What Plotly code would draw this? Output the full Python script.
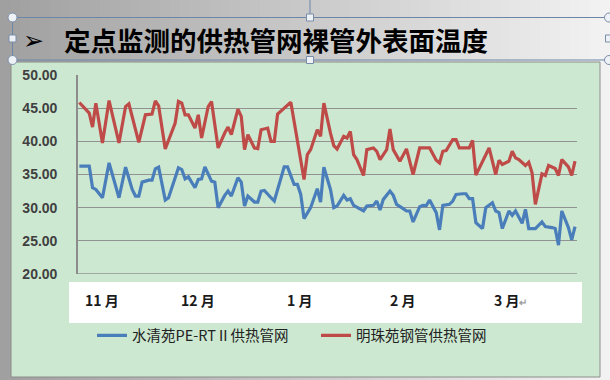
import plotly.graph_objects as go

W, H = 610, 380

# ---------------- data ----------------
title_text = "定点监测的供热管网裸管外表面温度"
series_names = ["水清苑PE-RTⅡ供热管网", "明珠苑钢管供热管网"]

# day index from 1 Nov (0) to 31 Mar (150)
blue_days = [0, 3, 4, 5, 7, 9, 12, 14, 16, 17, 18, 19, 21, 22, 23, 24, 26, 27, 30, 31,
             32, 33, 35, 36, 37, 38, 40, 41, 42, 44, 45, 46, 48, 49, 50, 51, 53, 54, 55, 56,
             58, 59, 62, 63, 65, 66, 67, 68, 70, 71, 72, 73, 74, 76, 77, 78, 80, 81, 82, 83,
             85, 86, 87, 89, 90, 91, 92, 94, 95, 96, 98, 99, 100, 101, 103, 104, 105, 106, 108, 109,
             110, 112, 113, 114, 116, 117, 118, 119, 120, 122, 123, 125, 126, 127, 128, 130, 131, 132, 134, 135,
             136, 138, 140, 141, 143, 144, 145, 146, 148, 149, 150]
blue_vals = [36.25, 36.25, 33.0, 32.75, 31.5, 36.75, 31.5, 36.1, 32.75, 31.75, 31.75, 33.85, 34.15, 34.15, 35.85, 36.1, 31.15, 31.5, 36.0, 35.75,
             34.35, 34.65, 33.0, 34.25, 34.35, 36.15, 34.0, 33.85, 30.0, 31.85, 32.5, 31.75, 34.5, 33.85, 30.25, 31.75, 30.85, 30.85, 32.5, 32.6,
             31.5, 31.0, 36.15, 36.15, 33.5, 33.5, 32.0, 28.35, 30.0, 31.5, 32.85, 30.85, 36.1, 32.75, 30.0, 30.25, 31.85, 31.15, 31.35, 30.35,
             29.85, 29.5, 30.25, 30.35, 31.0, 29.65, 31.25, 32.5, 31.85, 30.5, 29.85, 29.5, 29.5, 27.85, 30.15, 30.35, 30.3, 31.15, 29.25, 26.65,
             30.35, 30.5, 31.0, 32.0, 32.1, 32.1, 31.35, 31.35, 27.75, 26.85, 30.0, 30.75, 29.5, 29.25, 26.85, 29.5, 28.85, 29.5, 27.65, 29.75,
             26.85, 26.85, 27.85, 27.15, 27.0, 26.85, 24.35, 29.5, 27.0, 25.15, 27.15]

red_days = [0, 3, 4, 5, 7, 9, 12, 14, 15, 18, 20, 22, 23, 24, 26, 29, 30, 31, 32, 33,
            35, 36, 37, 39, 40, 42, 44, 45, 46, 48, 49, 50, 51, 53, 54, 55, 57, 58, 59, 60,
            62, 64, 68, 69, 70, 72, 73, 74, 76, 77, 78, 80, 81, 82, 83, 84, 86, 87, 89, 90,
            91, 93, 94, 95, 97, 99, 101, 103, 106, 108, 109, 110, 111, 113, 114, 115, 118, 119, 120, 122,
            124, 126, 127, 128, 130, 131, 132, 133, 135, 136, 137, 138, 140, 141, 142, 144, 145, 146, 148, 149,
            150]
red_vals = [45.85, 44.25, 42.15, 45.75, 39.75, 46.15, 39.75, 45.25, 45.65, 39.85, 44.0, 44.1, 46.1, 45.35, 38.85, 42.75, 46.0, 45.75, 44.0, 44.0,
            42.0, 44.0, 40.5, 45.25, 46.0, 39.0, 41.25, 42.15, 41.0, 44.85, 43.75, 38.75, 41.0, 39.0, 38.9, 41.75, 42.0, 40.0, 40.0, 44.1,
            45.0, 45.9, 34.25, 38.0, 38.75, 41.75, 40.75, 45.75, 41.25, 39.35, 38.85, 40.75, 40.5, 41.5, 38.0, 37.25, 34.85, 38.75, 39.0, 38.5,
            37.25, 38.75, 41.85, 38.75, 37.0, 38.85, 35.0, 39.0, 39.0, 37.15, 36.75, 38.5, 38.6, 40.25, 40.25, 39.0, 39.0, 40.15, 34.9, 37.0,
            39.0, 35.0, 37.15, 36.5, 37.0, 38.5, 37.5, 37.25, 36.35, 36.85, 35.25, 30.5, 35.1, 34.85, 36.35, 35.9, 34.85, 37.25, 36.15, 34.85,
            37.0]

month_labels = ["11 月", "12 月", "1 月", "2 月", "3 月"]
month_label_days = [1.1, 30.2, 62.2, 93.4, 124.9]

y_ticks = [20, 25, 30, 35, 40, 45, 50]

# ---------------- helpers ----------------
def px(x):
    return x / W

def py(y):
    return 1 - y / H

BLUE = "#4A7EBB"
RED = "#BE4B48"
GREEN = "#CDE8D1"
GRID = "#929292"

fig = go.Figure()
fig.add_trace(go.Scatter(x=blue_days, y=blue_vals, mode="lines", name=series_names[0],
                         line=dict(color=BLUE, width=3.2)))
fig.add_trace(go.Scatter(x=red_days, y=red_vals, mode="lines", name=series_names[1],
                         line=dict(color=RED, width=3.2)))

shapes = []
# gray gradient background (stripes)
n = 61
c0, c1 = (160, 160, 160), (242, 242, 242)
for i in range(n):
    t = i / (n - 1)
    c = tuple(int(round(c0[k] + (c1[k] - c0[k]) * t)) for k in range(3))
    shapes.append(dict(type="rect", xref="paper", yref="paper", x0=i / n, x1=(i + 1) / n + 0.002,
                       y0=0, y1=1, line=dict(width=0), fillcolor="rgb(%d,%d,%d)" % c, layer="below"))
# green chart area
shapes.append(dict(type="rect", xref="paper", yref="paper", x0=px(11), x1=px(600), y0=py(377), y1=py(62),
                   line=dict(color="#8c8c8c", width=1), fillcolor=GREEN, layer="below"))
# white box for month labels
shapes.append(dict(type="rect", xref="paper", yref="paper", x0=px(69), x1=px(582), y0=py(323), y1=py(282),
                   line=dict(width=0), fillcolor="white", layer="below"))
# bottom gridline at 20 (range edge)
shapes.append(dict(type="line", xref="x domain", yref="y", x0=0, x1=1, y0=20, y1=20,
                   line=dict(color=GRID, width=1.4), layer="below"))
# title text box outline + handles
BOX = "#6D86A8"
shapes.append(dict(type="line", xref="paper", yref="paper", x0=px(310), x1=px(310), y0=py(17), y1=py(0),
                   line=dict(color=BOX, width=1)))
shapes.append(dict(type="rect", xref="paper", yref="paper", x0=px(12.5), x1=px(612), y0=py(60), y1=py(17.5),
                   line=dict(color=BOX, width=1), fillcolor="rgba(0,0,0,0)"))
for (hx, hy) in [(12.5, 17.5), (12.5, 60), (609, 17.5), (609, 60)]:
    r = 4.5
    shapes.append(dict(type="circle", xref="paper", yref="paper", x0=px(hx - r), x1=px(hx + r),
                       y0=py(hy + r), y1=py(hy - r), line=dict(color="#7A8DA8", width=1), fillcolor="#EEF2F7"))
for (hx, hy) in [(310, 17.5), (310, 60), (12.5, 38.5), (609, 38.5)]:
    r = 3.5
    shapes.append(dict(type="rect", xref="paper", yref="paper", x0=px(hx - r), x1=px(hx + r),
                       y0=py(hy + r), y1=py(hy - r), line=dict(color="#7A8DA8", width=1), fillcolor="#EEF2F7"))

annotations = []
annotations.append(dict(text="➢", xref="paper", yref="paper", x=px(21), y=py(40), xanchor="left", yanchor="middle",
                        showarrow=False, font=dict(family="DejaVu Sans", size=25, color="black")))
annotations.append(dict(text=title_text, xref="paper", yref="paper", x=px(62), y=py(39.5), xanchor="left",
                        yanchor="middle", showarrow=False,
                        font=dict(family="Noto Sans CJK SC", size=26.5, color="black", weight="bold")))
for i, (lab, d) in enumerate(zip(month_labels, month_label_days)):
    txt = lab
    if i == len(month_labels) - 1:
        txt = lab + "<span style='color:#a0a0a0;font-size:10px'>↵</span>"
    annotations.append(dict(text=txt, xref="x", yref="paper", x=d, y=py(300), xanchor="left", yanchor="middle",
                            showarrow=False,
                            font=dict(family="Noto Sans CJK SC", size=14, color="#1a1a1a", weight="bold")))

x_lo, x_hi = -0.4, 150.6
fig.update_layout(
    width=W, height=H, autosize=False,
    margin=dict(l=0, r=0, t=0, b=0, pad=0, autoexpand=False),
    paper_bgcolor="white", plot_bgcolor="rgba(0,0,0,0)",
    shapes=shapes, annotations=annotations,
    showlegend=True,
    legend=dict(orientation="h", x=px(92), y=py(335.5), xanchor="left", yanchor="middle",
                bgcolor="rgba(0,0,0,0)", font=dict(family="Noto Sans CJK SC", size=14.5, color="#222"),
                entrywidthmode="pixels", entrywidth=179, itemwidth=30),
    xaxis=dict(domain=[px(78), px(577)], range=[x_lo, x_hi], showgrid=False, zeroline=False, automargin=False,
               showline=False, showticklabels=False, ticks=""),
    yaxis=dict(domain=[py(274), py(75)], range=[20, 50], tickvals=y_ticks, tickformat=".2f", automargin=False,
               showgrid=True, gridcolor=GRID, gridwidth=1.4, zeroline=False,
               showline=True, linecolor="#8c8c8c", linewidth=1.6, ticks="", ticklabelstandoff=16,
               tickfont=dict(family="Liberation Sans", size=14, color="#404040", weight="bold")),
)

fig.write_html("out.html", config={"displayModeBar": False},
               post_script="document.body.style.margin='0';")
